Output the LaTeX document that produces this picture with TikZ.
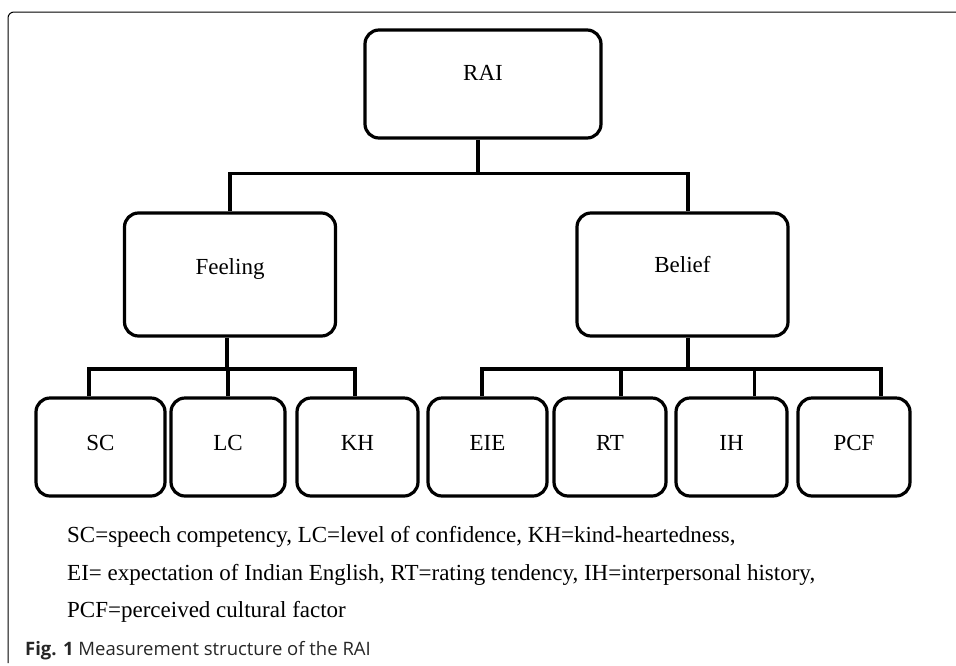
\documentclass[tikz,border=0pt]{standalone}
\usepackage{fontspec}
\setmainfont{Liberation Serif}
\newfontfamily\capfont{Open Sans}
\usetikzlibrary{calc}

\begin{document}
\begin{tikzpicture}[x=1pt,y=-1pt,
  box/.style={draw,line width=3.2pt,rounded corners=14pt,inner sep=0pt,
    font=\fontsize{23}{27}\selectfont},
  link/.style={line width=3.2pt},
  legend/.style={anchor=west,inner sep=0pt,font=\fontsize{23}{27}\selectfont}]
\useasboundingbox (0,0) rectangle (956,665);
\draw[line width=1pt,rounded corners=6pt] (8,663) -- (8,12) -- (956,12);
% top levels
\node[box,minimum width=236pt,minimum height=108pt,text depth=22pt] (rai) at (483,84) {RAI};
\node[box,minimum width=211pt,minimum height=123pt,text depth=16pt] (feeling) at (230,274.5) {Feeling};
\node[box,minimum width=211pt,minimum height=123pt,text depth=20pt] (belief) at (682.5,274.5) {Belief};
% items
\foreach \name/\txt/\x/\w in {sc/SC/100.5/129,lc/LC/228/114,kh/KH/357.5/121,eie/EIE/487.5/119,
  rt/RT/610/112,ih/IH/731.5/111,pcf/PCF/854/112}
  \node[box,minimum width=\w pt,minimum height=98pt,text depth=8pt] (\name) at (\x,447) {\txt};
% connectors
\coordinate (top) at (0,173.5);
\coordinate (fbar) at (0,369);
\coordinate (bbar) at (0,369);
\draw[link] ([xshift=-5pt]rai.south) -- ([xshift=-5pt]rai.south |- top);
\draw[link] (feeling.north) |- ([xshift=5.5pt]belief.north |- top) -- ([xshift=5.5pt]belief.north);
\draw[link] ([xshift=-3pt]feeling.south) -- ([xshift=-3pt]feeling.south |- fbar);
\draw[link] ([xshift=-11.5pt]sc.north) |- ([xshift=-2.5pt]kh.north |- fbar) -- ([xshift=-2.5pt]kh.north);
\draw[link] (lc.north) -- (lc.north |- fbar);
\draw[link] ([xshift=5.5pt]belief.south) -- ([xshift=5.5pt]belief.south |- bbar);
\draw[link] ([xshift=-5.5pt]eie.north) |- ([xshift=27pt]pcf.north |- bbar) -- ([xshift=27pt]pcf.north);
\draw[link] ([xshift=11pt]rt.north) -- ([xshift=11pt]rt.north |- bbar);
\draw[link] ([xshift=23pt]ih.north) -- ([xshift=23pt]ih.north |- bbar);
% legend
\node[legend] (l1) at (67,537) {SC=speech competency, LC=level of confidence, KH=kind-heartedness,};
\node[legend] (l2) at (67,575) {EI= expectation of Indian English, RT=rating tendency, IH=interpersonal history,};
\node[legend] (l3) at (67,612) {PCF=perceived cultural factor};
\node[anchor=west,inner sep=0pt,text=black!85,font=\capfont\fontsize{18.5}{22}\selectfont] (cap) at (25,651)
  {\textbf{Fig. 1} Measurement structure of the RAI};
\end{tikzpicture}
\end{document}
